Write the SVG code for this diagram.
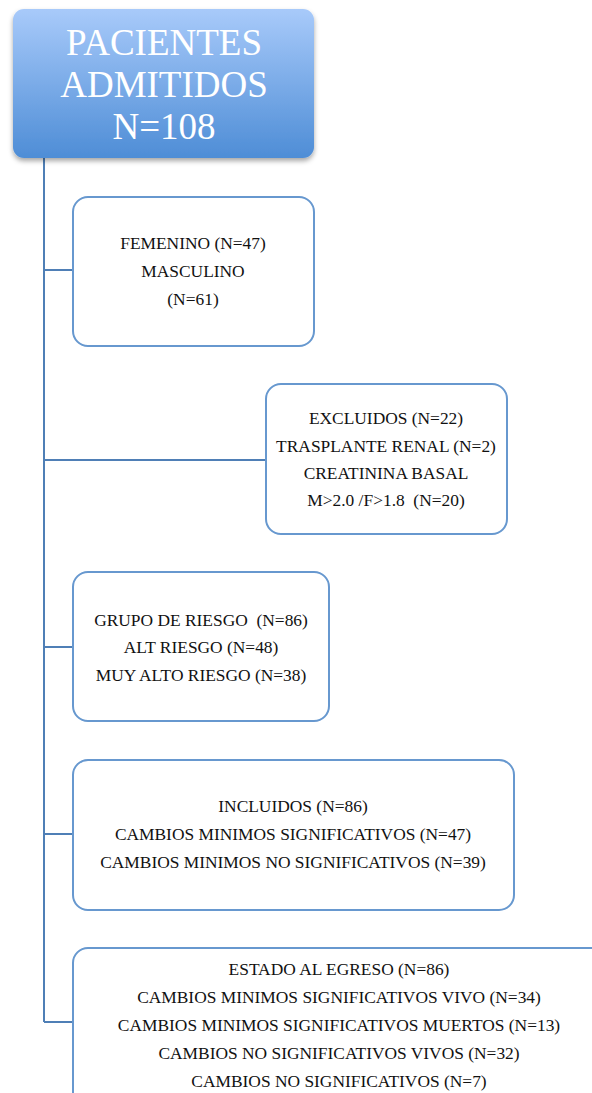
<svg xmlns="http://www.w3.org/2000/svg" width="592" height="1093" viewBox="0 0 592 1093">
<style>
.box{fill:#ffffff;stroke:#6798cf;stroke-width:2}
.conn{stroke:#4f7fb6;stroke-width:2;fill:none}
.t{font-family:"Liberation Serif","DejaVu Serif",serif;font-size:17.4px;fill:#111111;text-anchor:middle}
.title{font-family:"Liberation Serif","DejaVu Serif",serif;font-size:37px;fill:#ffffff;text-anchor:middle}
</style>
<defs>
<linearGradient id="g" x1="0" y1="0" x2="0" y2="1">
<stop offset="0" stop-color="#a8cafa"/>
<stop offset="1" stop-color="#4e8dd6"/>
</linearGradient>
<filter id="sh" x="-10%" y="-10%" width="120%" height="125%">
<feDropShadow dx="0" dy="3" stdDeviation="2.5" flood-color="#000" flood-opacity="0.35"/>
</filter>
</defs>
<rect width="592" height="1093" fill="#ffffff"/>
<g id="connectors">
<path class="conn" d="M44 158 V1022"/>
<path class="conn" d="M44 270 H73"/>
<path class="conn" d="M44 460 H266"/>
<path class="conn" d="M44 647 H73"/>
<path class="conn" d="M44 834 H73"/>
<path class="conn" d="M44 1022 H73"/>
</g>
<g id="root">
<rect x="13" y="9" width="301" height="149" rx="11" fill="url(#g)" filter="url(#sh)"/>
<text class="title" x="164" y="55">PACIENTES</text>
<text class="title" x="164" y="97">ADMITIDOS</text>
<text class="title" x="164" y="139">N=108</text>
</g>
<g id="sexo">
<rect class="box" x="73" y="197" width="241" height="149" rx="15"/>
<text class="t" x="193" y="249">FEMENINO (N=47)</text>
<text class="t" x="193" y="277">MASCULINO</text>
<text class="t" x="193" y="305">(N=61)</text>
</g>
<g id="excluidos">
<rect class="box" x="266" y="384" width="241" height="150" rx="15"/>
<text class="t" x="386" y="424">EXCLUIDOS (N=22)</text>
<text class="t" x="386" y="452">TRASPLANTE RENAL (N=2)</text>
<text class="t" x="386" y="479">CREATININA BASAL</text>
<text class="t" x="386" y="506" xml:space="preserve">M&gt;2.0 /F&gt;1.8  (N=20)</text>
</g>
<g id="riesgo">
<rect class="box" x="73" y="572" width="256" height="149" rx="15"/>
<text class="t" x="201" y="626" xml:space="preserve">GRUPO DE RIESGO  (N=86)</text>
<text class="t" x="201" y="653">ALT RIESGO (N=48)</text>
<text class="t" x="201" y="681">MUY ALTO RIESGO (N=38)</text>
</g>
<g id="incluidos">
<rect class="box" x="73" y="760" width="441" height="150" rx="15"/>
<text class="t" x="293" y="812">INCLUIDOS (N=86)</text>
<text class="t" x="293" y="840">CAMBIOS MINIMOS SIGNIFICATIVOS (N=47)</text>
<text class="t" x="293" y="868">CAMBIOS MINIMOS NO SIGNIFICATIVOS (N=39)</text>
</g>
<g id="egreso">
<rect class="box" x="73" y="948" width="560" height="180" rx="15"/>
<text class="t" x="339" y="975">ESTADO AL EGRESO (N=86)</text>
<text class="t" x="339" y="1003">CAMBIOS MINIMOS SIGNIFICATIVOS VIVO (N=34)</text>
<text class="t" x="339" y="1031">CAMBIOS MINIMOS SIGNIFICATIVOS MUERTOS (N=13)</text>
<text class="t" x="339" y="1059">CAMBIOS NO SIGNIFICATIVOS VIVOS (N=32)</text>
<text class="t" x="339" y="1087">CAMBIOS NO SIGNIFICATIVOS (N=7)</text>
</g>
</svg>
